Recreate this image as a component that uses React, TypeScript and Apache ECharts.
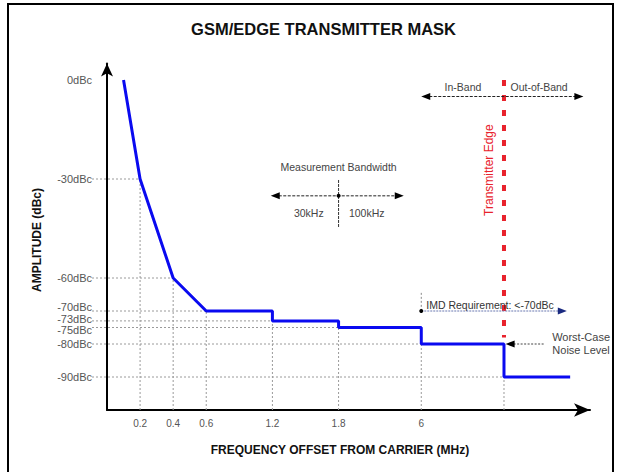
import React, { useEffect, useRef } from 'react';
import * as echarts from 'echarts';

// ---- data ----
const xTickLabels = ['0.2', '0.4', '0.6', '1.2', '1.8', '6', ''];
// slot of each tick along the (non-linear, schematic) frequency axis
const xTickSlots = [1, 2, 3, 5, 7, 9.5, 12];
const yTicks = [0, -30, -60, -70, -73, -75, -80, -90];
const maskSlots = [0.5, 1, 2, 3, 5, 5, 7, 7, 9.5, 9.5, 12, 12, 14];
const maskDbc = [0, -30, -60, -70, -70, -73, -73, -75, -75, -80, -80, -90, -90];
const edgeSlot = 12;
const imdSlot = 9.5;
const imdLimit = -70;
const noiseLevel = -80;

const FONT = '"Liberation Sans", Arial, Helvetica, sans-serif';
const X_MIN = 0;
const X_MAX = 14.6;
const Y_MIN = -100;
const Y_MAX = 5;

const labelNudge: Record<number, number> = { [-70]: -4, [-73]: -2, [-75]: 2 };

function firstSlotAt(level: number): number {
  const i = maskDbc.indexOf(level);
  return i >= 0 ? maskSlots[i] : 0;
}
function topAt(slot: number): number {
  let top = -Infinity;
  maskSlots.forEach((s, i) => {
    if (s === slot) top = Math.max(top, maskDbc[i]);
  });
  return top;
}

function arrowHead(x: number, y: number, dir: 'left' | 'right', fill = '#000', len = 9, half = 3.5) {
  const pts = dir === 'left'
    ? [[x, y], [x + len, y - half], [x + len, y + half]]
    : [[x, y], [x - len, y - half], [x - len, y + half]];
  return { type: 'polygon', shape: { points: pts }, style: { fill } };
}

export default function App() {
  const ref = useRef<HTMLDivElement>(null);

  useEffect(() => {
    if (!ref.current) return;
    const chart = echarts.init(ref.current, undefined, { renderer: 'svg' });

    const hData = yTicks.map((t) => [t < 0 ? firstSlotAt(t) : 0, t]);
    const vData = xTickSlots.map((s, i) => [s, topAt(s), i]);
    const maskData = maskSlots.map((s, i) => [s, maskDbc[i]]);

    const option: any = {
      animation: false,
      backgroundColor: '#fff',
      grid: { left: 107, right: 28, top: 63.5, bottom: 62, containLabel: false },
      xAxis: {
        type: 'value',
        min: X_MIN,
        max: X_MAX,
        axisLine: {
          show: true,
          onZero: false,
          lineStyle: { color: '#000', width: 2 },
          symbol: ['none', 'arrow'],
          symbolSize: [10, 16],
        },
        axisTick: { show: false },
        axisLabel: { show: false },
        splitLine: { show: false },
      },
      yAxis: {
        type: 'value',
        min: Y_MIN,
        max: Y_MAX,
        axisLine: {
          show: true,
          onZero: false,
          lineStyle: { color: '#000', width: 2 },
          symbol: ['none', 'arrow'],
          symbolSize: [9, 13],
        },
        axisTick: { show: false },
        axisLabel: { show: false },
        splitLine: { show: false },
      },
      graphic: [
        {
          type: 'rect',
          shape: { x: 8, y: 4, width: 605, height: 490 },
          style: { fill: 'none', stroke: '#000', lineWidth: 2 },
          silent: true,
        },
        {
          type: 'text',
          x: 323.5,
          y: 28.5,
          style: {
            text: 'GSM/EDGE TRANSMITTER MASK',
            align: 'center',
            verticalAlign: 'middle',
            fill: '#111',
            fontSize: 16.5,
            fontWeight: 'bold',
            fontFamily: FONT,
          },
        },
        {
          type: 'text',
          x: 340,
          y: 450,
          style: {
            text: 'FREQUENCY OFFSET FROM CARRIER (MHz)',
            align: 'center',
            verticalAlign: 'middle',
            fill: '#111',
            fontSize: 12,
            fontWeight: 'bold',
            fontFamily: FONT,
          },
        },
        {
          type: 'text',
          x: 37,
          y: 240,
          rotation: Math.PI / 2,
          style: {
            text: 'AMPLITUDE (dBc)',
            align: 'center',
            verticalAlign: 'middle',
            fill: '#111',
            fontSize: 12,
            fontWeight: 'bold',
            fontFamily: FONT,
          },
        },
      ],
      series: [
        {
          type: 'custom',
          name: 'hgrid',
          z: 1,
          clip: false,
          data: hData,
          renderItem: (params: any, api: any) => {
            const xe = api.value(0);
            const y = api.value(1);
            const p0 = api.coord([X_MIN, y]);
            const p1 = api.coord([xe, y]);
            const lx = p0[0] - 15;
            const children: any[] = [];
            if (y < 0) {
              children.push({
                type: 'line',
                shape: { x1: lx, y1: p0[1], x2: p1[0], y2: p1[1] },
                style: { stroke: '#9a9a9a', lineWidth: 1, lineDash: [2, 2] },
              });
            }
            children.push({
              type: 'text',
              x: lx,
              y: p0[1] + (labelNudge[y] || 0),
              style: {
                text: `${y}dBc`,
                align: 'right',
                verticalAlign: 'middle',
                fill: '#555',
                fontSize: 11,
                fontFamily: FONT,
              },
            });
            return { type: 'group', children };
          },
        },
        {
          type: 'custom',
          name: 'vgrid',
          z: 1,
          clip: false,
          data: vData,
          renderItem: (params: any, api: any) => {
            const s = api.value(0);
            const top = api.value(1);
            const idx = api.value(2);
            const pb = api.coord([s, Y_MIN]);
            const pt = api.coord([s, top]);
            return {
              type: 'group',
              children: [
                {
                  type: 'line',
                  shape: { x1: pb[0], y1: pb[1], x2: pt[0], y2: pt[1] },
                  style: { stroke: '#9a9a9a', lineWidth: 1, lineDash: [2, 2] },
                },
                {
                  type: 'text',
                  x: pb[0],
                  y: pb[1] + 13,
                  style: {
                    text: xTickLabels[idx],
                    align: 'center',
                    verticalAlign: 'middle',
                    fill: '#555',
                    fontSize: 10,
                    fontFamily: FONT,
                  },
                },
              ],
            };
          },
        },
        {
          type: 'line',
          name: 'mask',
          z: 3,
          data: maskData,
          showSymbol: false,
          symbol: 'none',
          lineStyle: { color: '#0a0af0', width: 3 },
        },
        {
          type: 'custom',
          name: 'annotations',
          z: 4,
          clip: false,
          data: [[edgeSlot, imdLimit]],
          renderItem: (params: any, api: any) => {
            const edge = api.value(0);
            const c = (x: number, y: number) => api.coord([x, y]);
            const txt = (x: number, y: number, text: string, extra: any = {}) => ({
              type: 'text',
              x,
              y,
              rotation: extra.rotation || 0,
              style: {
                text,
                align: extra.align || 'center',
                verticalAlign: 'middle',
                fill: extra.fill || '#444',
                fontSize: extra.fontSize || 10.5,
                fontFamily: FONT,
              },
            });
            const children: any[] = [];
            // Transmitter edge (red dotted)
            const r0 = c(edge, 0);
            const r1 = c(edge, noiseLevel + 2);
            children.push({
              type: 'line',
              shape: { x1: r0[0], y1: r0[1], x2: r1[0], y2: r1[1] },
              style: { stroke: '#e8222c', lineWidth: 4, lineDash: [6, 9] },
            });
            const tEdge = c(11.55, -27.3);
            children.push(txt(tEdge[0], tEdge[1], 'Transmitter Edge', { rotation: Math.PI / 2, fill: '#e8222c', fontSize: 12 }));

            // In-Band / Out-of-Band
            const b0 = c(imdSlot, -5);
            const b1 = c(14.4, -5);
            children.push({
              type: 'line',
              shape: { x1: b0[0] + 8, y1: b0[1], x2: b1[0] - 8, y2: b1[1] },
              style: { stroke: '#222', lineWidth: 1, lineDash: [3, 1.5] },
            });
            children.push(arrowHead(b0[0], b0[1], 'left'));
            children.push(arrowHead(b1[0], b1[1], 'right'));
            const ib = c(10.76, -2.1);
            children.push(txt(ib[0], ib[1], 'In-Band'));
            const ob = c(13.06, -2.1);
            children.push(txt(ob[0], ob[1], 'Out-of-Band'));

            // Measurement bandwidth
            const mt = c(7, -26.5);
            children.push(txt(mt[0], mt[1], 'Measurement Bandwidth'));
            const m0 = c(4.95, -35.1);
            const m1 = c(8.97, -35.1);
            children.push({
              type: 'line',
              shape: { x1: m0[0] + 8, y1: m0[1], x2: m1[0] - 8, y2: m1[1] },
              style: { stroke: '#222', lineWidth: 1, lineDash: [3, 1.5] },
            });
            children.push(arrowHead(m0[0], m0[1], 'left'));
            children.push(arrowHead(m1[0], m1[1], 'right'));
            const v0 = c(7, -30.3);
            const v1 = c(7, -44.8);
            children.push({
              type: 'line',
              shape: { x1: v0[0], y1: v0[1], x2: v1[0], y2: v1[1] },
              style: { stroke: '#333', lineWidth: 1, lineDash: [3, 1] },
            });
            const mc = c(7, -35.1);
            children.push({ type: 'circle', shape: { cx: mc[0], cy: mc[1], r: 2 }, style: { fill: '#000' } });
            const k30 = c(6.1, -40.4);
            children.push(txt(k30[0], k30[1], '30kHz'));
            const k100 = c(7.85, -40.4);
            children.push(txt(k100[0], k100[1], '100kHz'));

            // IMD requirement
            const i0 = c(imdSlot, imdLimit);
            const i1 = c(13.9, imdLimit);
            const iTop = c(imdSlot, -64.5);
            children.push({
              type: 'line',
              shape: { x1: iTop[0], y1: iTop[1], x2: i0[0], y2: i0[1] },
              style: { stroke: '#888', lineWidth: 1, lineDash: [2, 2] },
            });
            children.push({
              type: 'line',
              shape: { x1: i0[0], y1: i0[1], x2: i1[0] - 8, y2: i1[1] },
              style: { stroke: '#6a78b0', lineWidth: 1, lineDash: [2, 1] },
            });
            children.push(arrowHead(i1[0], i1[1], 'right', '#1a2a80'));
            children.push({ type: 'circle', shape: { cx: i0[0], cy: i0[1], r: 2 }, style: { fill: '#000' } });
            const it = c(9.65, -68.1);
            children.push(txt(it[0], it[1], 'IMD Requirement: <-70dBc', { align: 'left', fill: '#333' }));

            // Worst-case noise level
            const w0 = c(edge + 0.05, noiseLevel);
            const w1 = c(13.2, noiseLevel);
            children.push({
              type: 'line',
              shape: { x1: w0[0] + 8, y1: w0[1], x2: w1[0], y2: w1[1] },
              style: { stroke: '#444', lineWidth: 1, lineDash: [2, 1.5] },
            });
            children.push(arrowHead(w0[0], w0[1], 'left'));
            const wt = c(14.33, -77.9);
            children.push(txt(wt[0], wt[1], 'Worst-Case', { fontSize: 11 }));
            const wn = c(14.33, -81.8);
            children.push(txt(wn[0], wn[1], 'Noise Level', { fontSize: 11 }));

            return { type: 'group', children };
          },
        },
      ],
    };

    chart.setOption(option);
    return () => chart.dispose();
  }, []);

  return (
    <div
      ref={ref}
      style={{ position: 'fixed', left: 0, top: 0, width: 618, height: 472, background: '#fff' }}
    />
  );
}
